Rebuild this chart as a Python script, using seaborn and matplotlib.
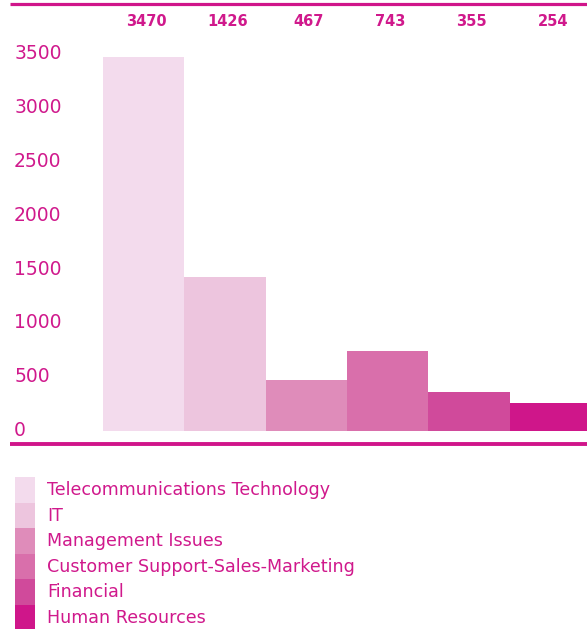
import matplotlib
matplotlib.use("Agg")
import matplotlib.pyplot as plt
import seaborn as sns
import pandas as pd
from matplotlib.patches import Patch
from matplotlib.lines import Line2D
from matplotlib.transforms import blended_transform_factory

categories = ["Telecommunications Technology", "IT", "Management Issues",
              "Customer Support-Sales-Marketing", "Financial", "Human Resources"]
values = [3470, 1426, 467, 743, 355, 254]
colors = ["#f3dbed", "#edc5de", "#df8cba", "#d96fab", "#d04a9b", "#cf168a"]
yticks = [0, 500, 1000, 1500, 2000, 2500, 3000, 3500]

TXT = "#d0198c"
W, H = 587, 629
sns.set_theme(style="white")
plt.rcParams['font.family'] = ['DejaVu Sans']

fig = plt.figure(figsize=(W / 100, H / 100), dpi=100)
ymax = 3700
scale = 0.1077
ax_bottom_px = 430.7
ax_top_px = ax_bottom_px - ymax * scale
ax = fig.add_axes([103 / W, (H - ax_bottom_px) / H, (W - 103) / W, (ax_bottom_px - ax_top_px) / H])

df = pd.DataFrame({"cat": categories, "val": values})
sns.barplot(data=df, x="cat", y="val", hue="cat", palette=colors, width=1,
            legend=False, ax=ax, saturation=1, linewidth=0)
ax.set_xlim(-0.5, 5.45)
ax.set_ylim(0, ymax)
ax.set_xlabel("")
ax.set_ylabel("")
ax.set_xticks([])
ax.set_yticks(yticks)
ax.set_yticklabels([str(t) for t in yticks], ha="left", color=TXT, fontsize=13.5)
for lab in ax.get_yticklabels():
    lab.set_verticalalignment("center")
ax.tick_params(axis="y", length=0, pad=64)
for s in ax.spines.values():
    s.set_visible(False)
ax.set_facecolor("none")

tr = blended_transform_factory(ax.transData, fig.transFigure)
for i, v in enumerate(values):
    ax.text(i + 0.03, 1 - 22 / H, str(v), transform=tr, ha="center", va="center",
            color=TXT, fontsize=10.5, fontweight="bold")

fig.add_artist(Line2D([10 / W, 1], [1 - 4.2 / H, 1 - 4.2 / H], color="#d0158a", lw=2.3,
                      transform=fig.transFigure, solid_capstyle="butt"))
fig.add_artist(Line2D([10 / W, 1], [1 - 443.7 / H, 1 - 443.7 / H], color="#d0158a", lw=2.8,
                      transform=fig.transFigure, solid_capstyle="butt"))

handles = [Patch(facecolor=c, edgecolor="none") for c in colors]
fs = 12.6
fs_px = fs / 0.72
hh = (25.5 / fs_px - 0.245) / 0.65
leg = fig.legend(handles, categories, loc="upper left",
                 bbox_to_anchor=(15 / W, 1 - 477 / H), bbox_transform=fig.transFigure,
                 frameon=False, fontsize=fs, labelcolor=TXT,
                 handlelength=20 / fs_px, handleheight=hh,
                 handletextpad=12 / fs_px, labelspacing=0, borderpad=0, borderaxespad=0)

fig.savefig("out.png", dpi=100)
